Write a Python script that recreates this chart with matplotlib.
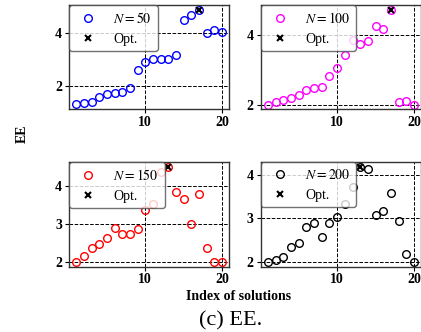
import matplotlib
matplotlib.use("Agg")
import matplotlib.pyplot as plt
from matplotlib.ticker import MultipleLocator, FixedLocator

plt.rcParams['font.family'] = ['Liberation Serif', 'DejaVu Serif']
plt.rcParams['mathtext.fontset'] = 'stix'

idx = list(range(1, 21))
ee_50 = [1.32, 1.37, 1.41, 1.60, 1.70, 1.75, 1.80, 1.92, 2.62, 2.93,
         3.01, 3.02, 3.03, 3.19, 4.48, 4.67, 4.88, 4.00, 4.10, 4.03]
ee_100 = [2.00, 2.07, 2.14, 2.19, 2.29, 2.42, 2.47, 2.52, 2.83, 3.07,
          3.42, 3.87, 3.76, 3.83, 4.26, 4.17, 4.74, 2.06, 2.10, 2.00]
ee_150 = [2.00, 2.16, 2.37, 2.46, 2.62, 2.90, 2.74, 2.74, 2.86, 3.37,
          3.51, 4.36, 4.50, 3.83, 3.66, 3.00, 3.77, 2.37, 2.00, 2.00]
ee_200 = [2.00, 2.04, 2.10, 2.33, 2.43, 2.80, 2.89, 2.56, 2.89, 3.04,
          3.33, 3.73, 4.19, 4.14, 3.08, 3.16, 3.59, 2.93, 2.17, 2.00]
opt_idx = [17, 17, 13, 13]
labels = ['50', '100', '150', '200']
colors = ['blue', 'magenta', 'red', 'black']
yticks = [[2, 4], [2, 4], [2, 3, 4], [2, 3, 4]]
series = [ee_50, ee_100, ee_150, ee_200]

W, H = 421, 332
fig = plt.figure(figsize=(W / 100, H / 100), dpi=100)

boxes = [(69, 5, 229.3, 109), (260.7, 5, 421.3, 109.3),
         (69, 162, 229.3, 266.5), (260.7, 162, 421.3, 266.5)]

for k in range(4):
    l, t, r, b = boxes[k]
    ax = fig.add_axes([l / W, 1 - b / H, (r - l) / W, (b - t) / H])
    y = series[k]
    ax.plot(idx, y, linestyle='none', marker='o', markerfacecolor='none',
            markeredgecolor=colors[k], markersize=5.5, markeredgewidth=1.0,
            label=r'$N = %s$' % labels[k])
    oi = opt_idx[k]
    ax.plot([oi], [y[oi - 1]], linestyle='none', marker='x', color='black',
            markersize=4, markeredgewidth=1.5, label='Opt.')
    ax.xaxis.set_major_locator(MultipleLocator(10))
    ax.yaxis.set_major_locator(FixedLocator(yticks[k]))
    ax.grid(True, linestyle='--', color='black', linewidth=0.7)
    ax.set_axisbelow(True)
    for lab in ax.get_xticklabels() + ax.get_yticklabels():
        lab.set_fontweight('bold')
        lab.set_fontsize(10)
    ax.tick_params(length=3, width=0.8, pad=2)
    for s in ax.spines.values():
        s.set_color('0.2')
        s.set_linewidth(1.0)
    leg = ax.legend(loc='upper left', borderaxespad=0, fontsize=10,
                    framealpha=0.8, edgecolor='0.3', fancybox=True)
    leg.get_frame().set_linewidth(1.0)

fig.text(22 / W, 1 - 134 / H, 'EE', rotation=90, ha='center', va='center',
         fontsize=10, fontweight='bold')
fig.text(239 / W, 1 - 297 / H, 'Index of solutions', ha='center', va='center',
         fontsize=10, fontweight='bold')
fig.text(231 / W, 1 - 321 / H, '(c) EE.', ha='center', va='center',
         fontsize=16)

fig.savefig('out.png', dpi=100)
